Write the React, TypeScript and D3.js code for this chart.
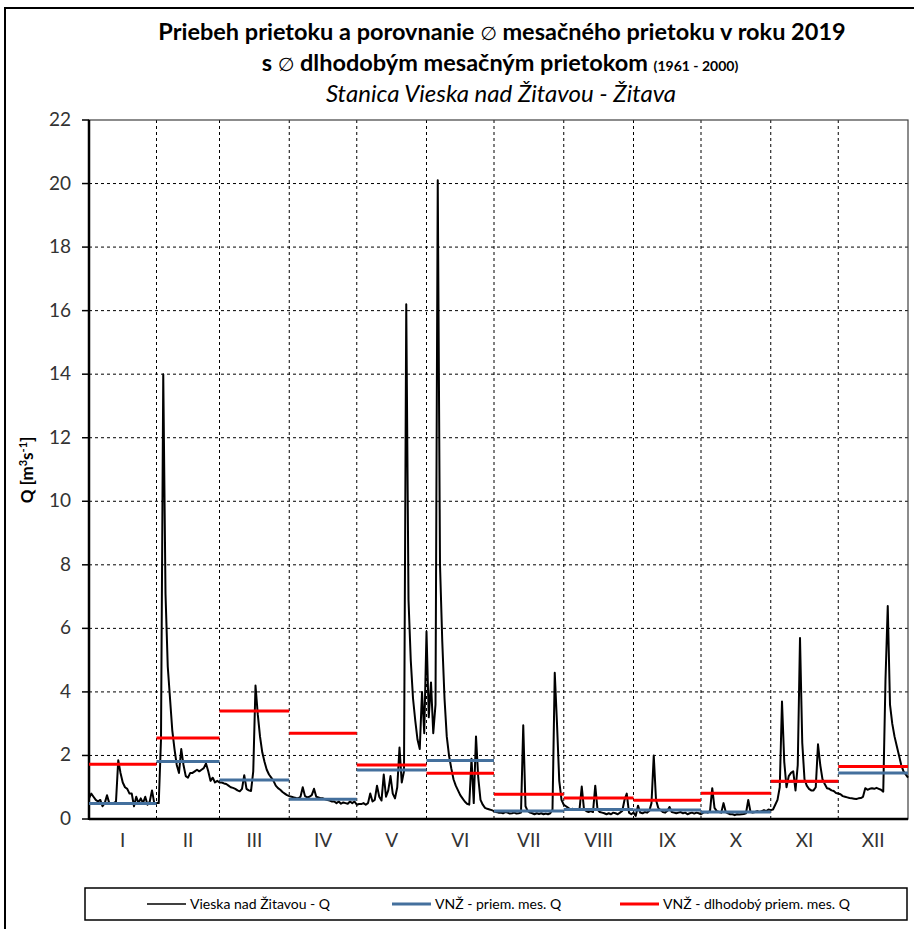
import React from "react";
import * as d3 from "d3";

// ---- DATA ----
const monthNames = ["I", "II", "III", "IV", "V", "VI", "VII", "VIII", "IX", "X", "XI", "XII"];
const monthLengths = [31, 28, 31, 30, 31, 30, 31, 31, 30, 31, 30, 31];

const qJan = [0.65,0.8,0.7,0.6,0.55,0.6,0.4,0.5,0.75,0.5,0.5,0.5,0.55,1.85,1.45,1.15,1.0,0.95,0.8,0.8,0.4,0.7,0.5,0.65,0.5,0.7,0.45,0.55,0.9,0.5,0.5];
const qFeb = [0.5,2.5,14.0,7.1,4.8,3.8,2.8,2.2,1.7,1.45,2.2,1.7,1.35,1.3,1.45,1.45,1.5,1.55,1.5,1.55,1.6,1.75,1.5,1.2,1.3,1.15,1.2,1.15];
const qMar = [1.15,1.12,1.1,1.05,1.0,0.98,0.95,0.9,0.87,0.95,1.38,0.95,0.9,0.88,1.5,4.2,3.3,2.6,2.1,1.8,1.55,1.4,1.3,1.2,1.05,0.97,0.92,0.85,0.8,0.75,0.72];
const qApr = [0.7,0.68,0.66,0.65,0.7,1.0,0.72,0.68,0.7,0.75,0.95,0.7,0.68,0.65,0.65,0.62,0.6,0.58,0.55,0.55,0.5,0.55,0.48,0.52,0.5,0.48,0.55,0.5,0.55,0.45];
const qMay = [0.47,0.47,0.5,0.45,0.5,0.8,0.55,0.6,1.05,0.7,0.58,1.4,0.7,0.9,1.35,0.8,0.65,1.0,2.25,1.15,1.5,16.2,6.9,5.0,3.8,3.1,2.5,2.2,4.0,2.7,5.9];
const qJun = [3.2,4.3,2.7,3.6,20.1,8.0,5.6,3.8,2.6,2.0,1.6,1.25,1.05,0.9,0.75,0.65,0.55,0.48,0.45,1.9,0.5,2.6,1.3,0.6,0.45,0.35,0.32,0.3,0.28,0.25];
const qJul = [0.22,0.2,0.2,0.18,0.22,0.2,0.17,0.18,0.2,0.17,0.18,0.2,2.95,0.4,0.25,0.2,0.18,0.15,0.18,0.16,0.18,0.15,0.17,0.15,0.18,0.3,4.6,3.0,1.2,0.6,0.45];
const qAug = [0.4,0.35,0.3,0.32,0.28,0.3,0.3,1.02,0.3,0.25,0.22,0.25,0.22,1.05,0.3,0.22,0.2,0.18,0.15,0.18,0.15,0.2,0.18,0.15,0.2,0.25,0.6,0.8,0.2,0.15,0.2];
const qSep = [0.1,0.42,0.2,0.18,0.22,0.2,0.25,0.5,2.0,0.6,0.35,0.28,0.22,0.2,0.25,0.38,0.22,0.2,0.18,0.2,0.22,0.18,0.2,0.15,0.18,0.2,0.17,0.2,0.18,0.15];
const qOct = [0.2,0.22,0.2,0.25,0.97,0.35,0.25,0.22,0.2,0.5,0.22,0.18,0.15,0.15,0.12,0.15,0.14,0.15,0.16,0.18,0.6,0.22,0.2,0.22,0.25,0.22,0.25,0.28,0.25,0.3,0.28];
const qNov = [0.3,0.45,0.6,1.0,3.7,1.8,1.0,1.35,1.45,1.5,0.9,1.7,5.7,2.4,1.25,1.05,0.95,0.9,0.9,1.0,2.35,1.7,1.25,1.1,0.97,0.95,0.9,0.88,0.82,0.8];
const qDec = [0.78,0.72,0.7,0.68,0.66,0.65,0.64,0.63,0.65,0.66,0.7,0.97,0.92,0.95,0.97,0.95,0.98,0.95,0.92,0.86,4.4,6.7,3.6,3.0,2.6,2.3,2.0,1.7,1.5,1.4,1.3];

const meanQ2019 = [0.49, 1.81, 1.23, 0.62, 1.54, 1.84, 0.25, 0.3, 0.28, 0.22, 1.18, 1.45];
const longTermQ = [1.72, 2.55, 3.4, 2.7, 1.7, 1.44, 0.78, 0.66, 0.59, 0.81, 1.19, 1.65];

const yTicks = [0, 2, 4, 6, 8, 10, 12, 14, 16, 18, 20, 22];

const legendLabels = ["Vieska nad Žitavou - Q", "VNŽ - priem. mes. Q", "VNŽ - dlhodobý priem. mes. Q"];

// ---- CHART ----
const FONT = "Lato, 'Noto Sans', sans-serif";
const BLUE = "#44709d";
const RED = "#ff0000";

export default function App() {
  const daily = [qJan, qFeb, qMar, qApr, qMay, qJun, qJul, qAug, qSep, qOct, qNov, qDec].flat();
  const left = 89, right = 908, top = 120, bottom = 819;
  const x = d3.scaleLinear().domain([0, daily.length - 1]).range([left, right]);
  const y = d3.scaleLinear().domain([0, 22]).range([bottom, top]);

  // month boundaries (index of last day in month)
  const ends: number[] = [];
  let acc = 0;
  monthLengths.forEach((l) => { acc += l; ends.push(acc - 1); });
  const starts = ends.map((e, i) => (i === 0 ? 0 : ends[i - 1]));

  const line = d3.line<number>().x((_, i) => x(i)).y((d) => y(d));

  const legendY = 904;
  const legendItems = [
    { x1: 147, x2: 186, color: "#000", w: 1.5, label: legendLabels[0] },
    { x1: 392, x2: 431, color: BLUE, w: 3, label: legendLabels[1] },
    { x1: 620, x2: 659, color: RED, w: 3, label: legendLabels[2] },
  ];

  return (
    <svg width={914} height={929} style={{ position: "absolute", left: 0, top: 0, background: "#fff" }} fontFamily={FONT}>
      <rect x={0} y={0} width={914} height={929} fill="#fff" />
      {/* outer frame */}
      <rect x={5} y={8} width={920} height={940} fill="none" stroke="#000" strokeWidth={2} />

      {/* titles */}
      <text x={502} y={40} textAnchor="middle" fontSize={23.5} fontWeight="bold" fill="#000">
        Priebeh prietoku a porovnanie <tspan fontWeight="normal" fontFamily="'DejaVu Sans'" fontSize={19}>∅</tspan> mesačného prietoku v roku 2019
      </text>
      <text x={500} y={71} textAnchor="middle" fontSize={23.5} fontWeight="bold" fill="#000">
        s <tspan fontWeight="normal" fontFamily="'DejaVu Sans'" fontSize={19}>∅</tspan> dlhodobým  mesačným prietokom <tspan fontSize={14}>(1961 - 2000)</tspan>
      </text>
      <text x={501} y={102} textAnchor="middle" fontSize={24} fontStyle="italic" fill="#000">
        Stanica Vieska nad Žitavou - Žitava
      </text>

      {/* gridlines */}
      {yTicks.filter((t) => t > 0 && t < 22).map((t) => (
        <line key={"gy" + t} x1={left} x2={right} y1={y(t)} y2={y(t)} stroke="#000" strokeWidth={1} strokeDasharray="3,3" />
      ))}
      {ends.slice(0, -1).map((e, i) => (
        <line key={"gx" + i} x1={x(e)} x2={x(e)} y1={top} y2={bottom} stroke="#000" strokeWidth={1} strokeDasharray="3,3" />
      ))}
      {/* plot border */}
      <rect x={left} y={top} width={right - left} height={bottom - top} fill="none" stroke="#404040" strokeWidth={1.2} />

      {/* y axis ticks and labels */}
      {yTicks.map((t) => (
        <g key={"yt" + t}>
          <line x1={left - 7} x2={left} y1={y(t)} y2={y(t)} stroke="#000" strokeWidth={1.5} />
          <text x={71} y={y(t) + 6} textAnchor="end" fontSize={19} fill="#333">{t}</text>
        </g>
      ))}
      {/* axis lines */}
      <line x1={left} x2={left} y1={top} y2={bottom + 1} stroke="#000" strokeWidth={2.5} />
      <line x1={left} x2={right} y1={bottom} y2={bottom} stroke="#000" strokeWidth={2.5} />

      {/* month labels */}
      {monthNames.map((m, i) => (
        <text key={m} x={(x(starts[i]) + x(ends[i])) / 2} y={847} textAnchor="middle" fontSize={19} fill="#333">{m}</text>
      ))}

      {/* y axis title */}
      <text transform="translate(33,470) rotate(-90)" textAnchor="middle" fontSize={17} fontWeight="bold" fill="#000">
        Q [m<tspan dy={-6} fontSize={11}>3</tspan><tspan dy={6}>s</tspan><tspan dy={-6} fontSize={11}>-1</tspan><tspan dy={6}>]</tspan>
      </text>

      {/* daily discharge */}
      <path d={line(daily) || ""} fill="none" stroke="#000" strokeWidth={2} strokeLinejoin="round" />

      {/* monthly means */}
      {meanQ2019.map((v, i) => (
        <line key={"b" + i} x1={x(starts[i])} x2={x(ends[i])} y1={y(v)} y2={y(v)} stroke={BLUE} strokeWidth={3} />
      ))}
      {longTermQ.map((v, i) => (
        <line key={"r" + i} x1={x(starts[i])} x2={x(ends[i])} y1={y(v)} y2={y(v)} stroke={RED} strokeWidth={3} />
      ))}

      {/* legend */}
      <rect x={85} y={888} width={822} height={32} fill="#fff" stroke="#000" strokeWidth={1.5} />
      {legendItems.map((it) => (
        <g key={it.label}>
          <line x1={it.x1} x2={it.x2} y1={legendY} y2={legendY} stroke={it.color} strokeWidth={it.w} />
          <text x={it.x2 + 4} y={legendY + 5} fontSize={14} fill="#000">{it.label}</text>
        </g>
      ))}
    </svg>
  );
}
